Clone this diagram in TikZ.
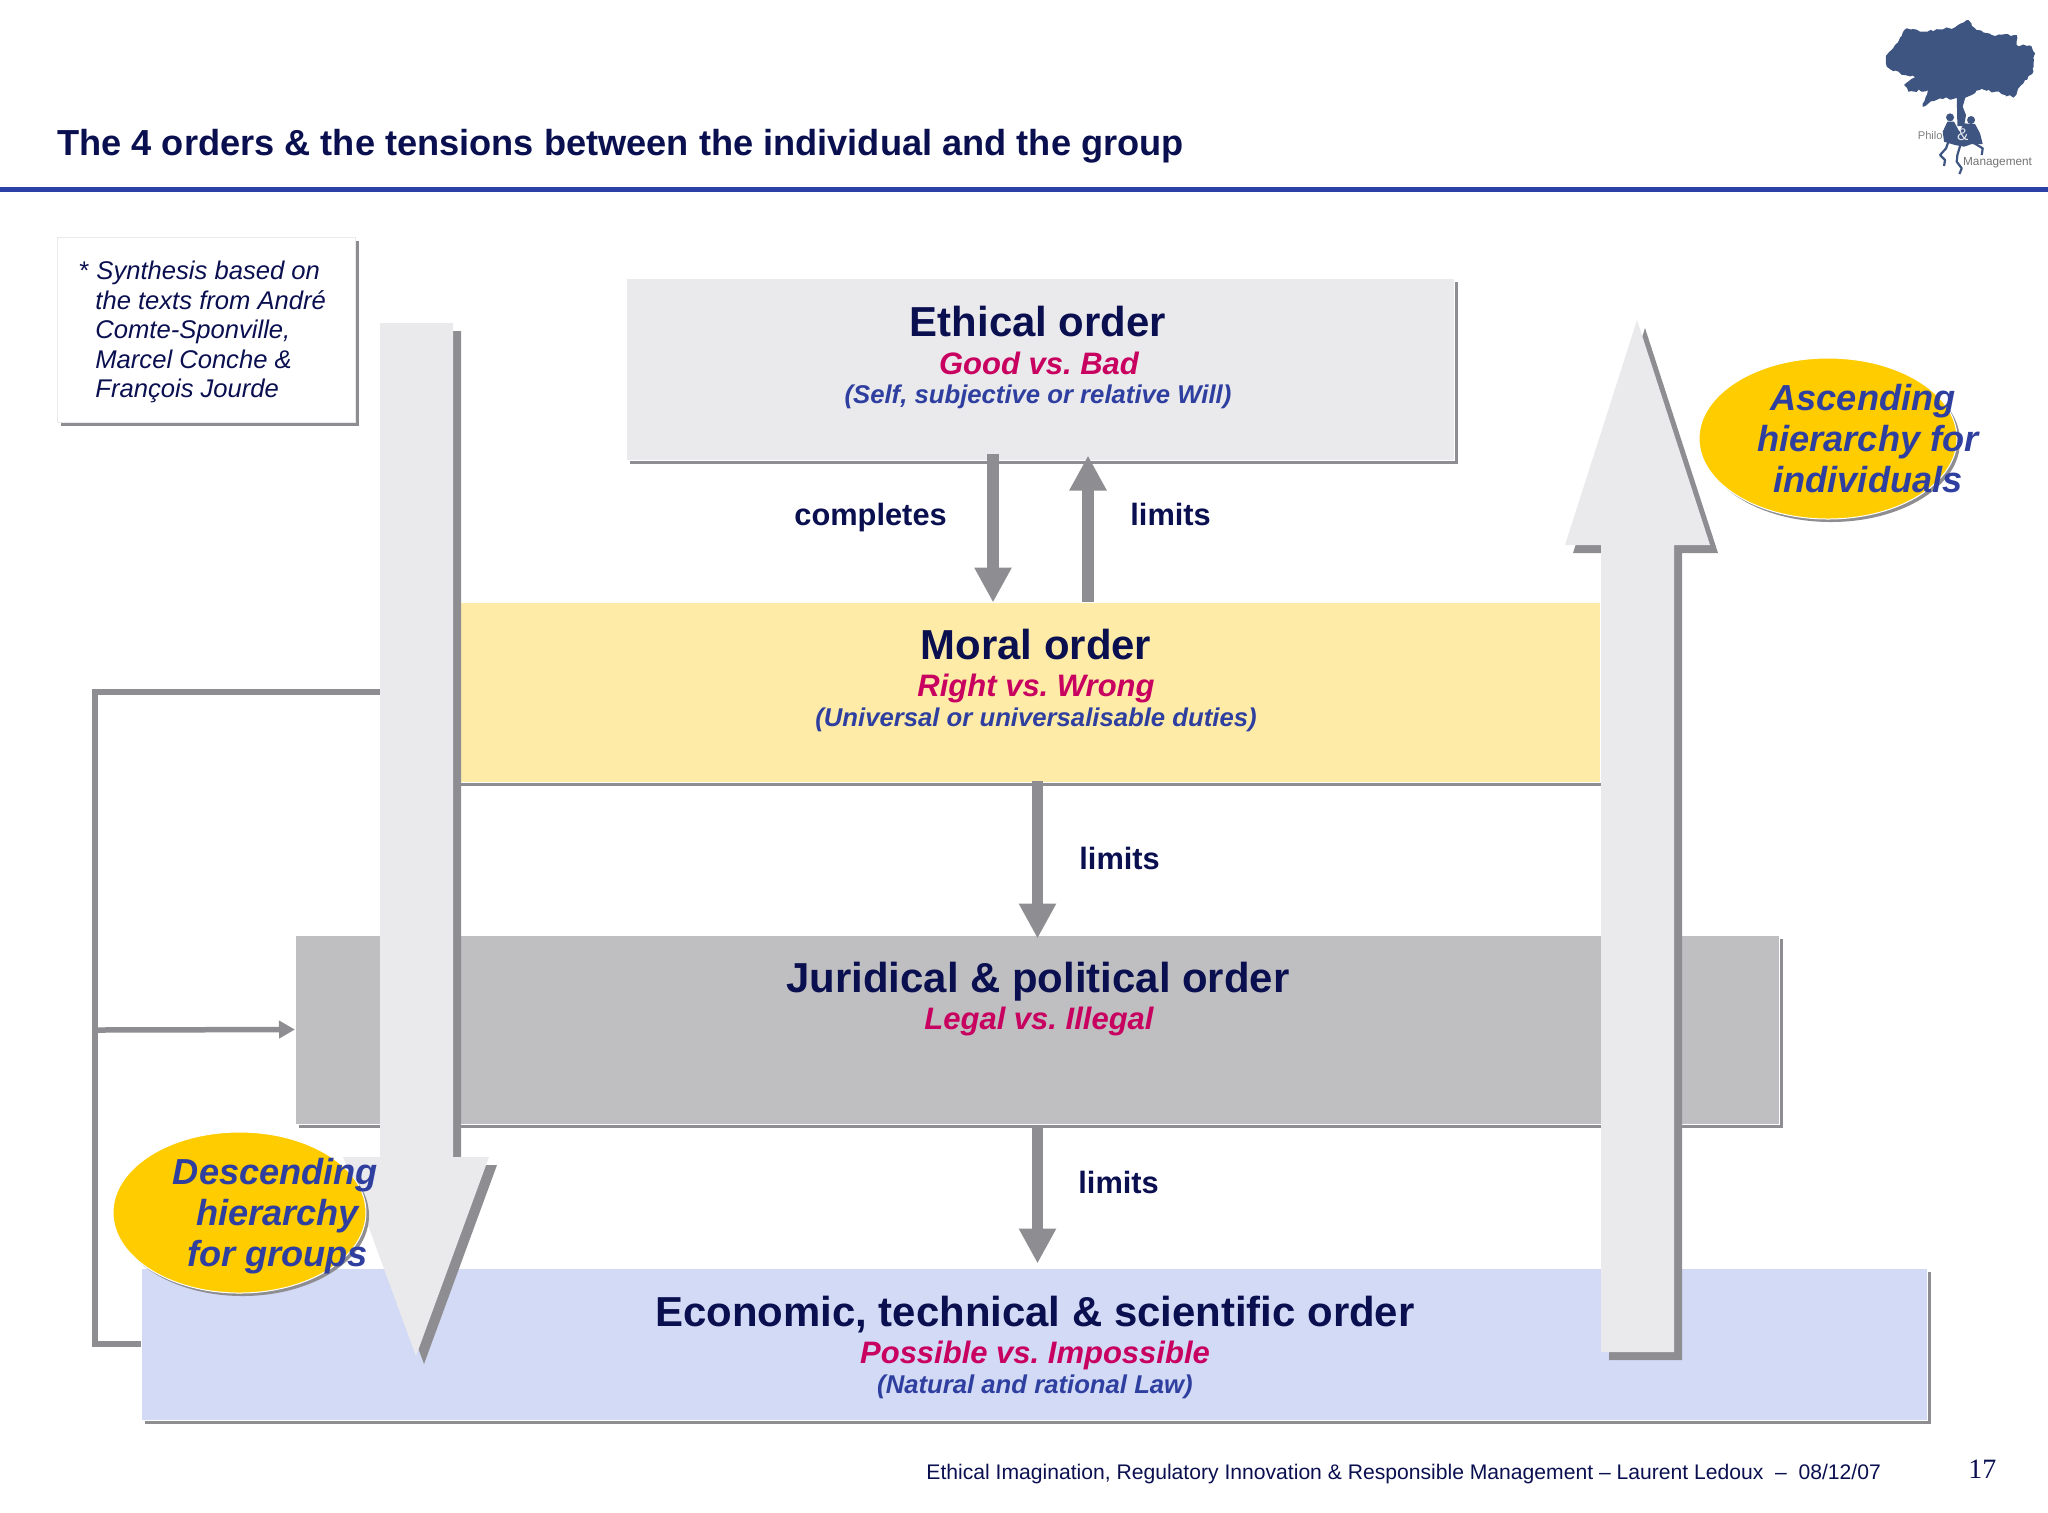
\documentclass[tikz,border=0pt]{standalone}
\usepackage{fontspec}
\setmainfont{Liberation Sans}
\newfontfamily\numfont{Liberation Serif}
\usetikzlibrary{arrows.meta,shapes.geometric,shadows,decorations.pathmorphing}
\frenchspacing
\definecolor{navy}{HTML}{0A0F50}
\definecolor{crimson}{HTML}{C8005F}
\definecolor{royal}{HTML}{2E3FA0}
\definecolor{rulecol}{HTML}{2B41A7}
\definecolor{ethicalcol}{HTML}{EAE9EC}
\definecolor{moralcol}{HTML}{FEEBA8}
\definecolor{juridcol}{HTML}{BFBEC1}
\definecolor{ecocol}{HTML}{D3DAF5}
\definecolor{flowgray}{HTML}{8E8D91}
\definecolor{bubblecol}{HTML}{FFCC00}
\definecolor{treecol}{HTML}{3D5580}
\tikzset{
  orderbox/.style={rectangle,draw=white,line width=0.5pt,inner sep=0pt,
    drop shadow={shadow xshift=1.75pt,shadow yshift=-1.75pt,fill=flowgray,opacity=1}},
  bubble/.style={ellipse,fill=bubblecol,draw=white,line width=0.5pt,inner sep=0pt,
    drop shadow={shadow xshift=1.5pt,shadow yshift=-1.5pt,fill=flowgray,opacity=1}},
  bigarrow/.style={fill=ethicalcol,
    drop shadow={shadow xshift=4pt,shadow yshift=-4pt,fill=flowgray,opacity=1}},
  flow/.style={draw=flowgray,line width=5.75pt,-{Triangle[length=17.5pt,width=17.5pt]}},
  loopline/.style={draw=flowgray,line width=3pt},
  looparrow/.style={draw=flowgray,line width=2.75pt,-{Triangle[length=8pt,width=8.5pt]}},
  ordername/.style={anchor=base,text=navy,font=\fontsize{20.95}{25}\selectfont\bfseries},
  orderrule/.style={anchor=base,text=crimson,font=\fontsize{15.5}{18}\selectfont\bfseries\itshape},
  ordernote/.style={anchor=base,text=royal,font=\fontsize{12.85}{15}\selectfont\bfseries\itshape},
  flowlabel/.style={anchor=base west,text=navy,font=\fontsize{15.4}{18}\selectfont\bfseries},
  bubbletext/.style={align=center,text=royal,inner sep=0pt,font=\fontsize{18.1}{20.5}\selectfont\bfseries\itshape},
  rootline/.style={draw=treecol,line width=1.1pt,line join=round},
}
\begin{document}
\begin{tikzpicture}[x=0.5pt,y=-0.5pt]
\useasboundingbox (0,0) rectangle (2048,1512);

\node[anchor=base west,inner sep=0pt,text=navy,font=\fontsize{18.1}{22}\selectfont\bfseries] (title) at (57,155)
  {The 4 orders \& the tensions between the individual and the group};
\draw[rulecol,line width=2.5pt] (0,189.5) -- (2048,189.5);

\begin{scope}[shift={(1840,0)},x=0.1667pt,y=-0.1667pt]
\pgfmathsetseed{11}
\fill[treecol,decorate,decoration={random steps,segment length=1.6pt,amplitude=0.7pt}]
  (140,165) -- (165,135) -- (185,108) -- (200,85) -- (240,95) -- (295,88) -- (345,82) -- (385,60)
  -- (410,90) -- (455,105) -- (530,105) -- (530,135) -- (575,140) -- (585,160) -- (580,215) -- (550,250)
  -- (520,293) -- (465,275) -- (420,270) -- (378,292) -- (345,295) -- (300,295) -- (248,320) -- (265,270)
  -- (205,275) -- (192,255) -- (225,232) -- (195,225) -- (140,200) -- cycle;
\fill[treecol] (350,285) -- (378,285) -- (368,320) -- (378,345) -- (372,378) -- (352,378) -- cycle;
\fill[treecol] (330,352) circle (12);
\fill[treecol] (393,360) circle (12);
\fill[treecol] (322,365) -- (342,365) -- (358,395) -- (372,370) -- (405,372) -- (420,400) -- (428,432)
  -- (395,432) -- (372,440) -- (345,435) -- (312,425) -- (308,395) -- cycle;
\draw[rootline] (325,425) -- (318,445) -- (300,465) -- (315,480) -- (312,498);
\draw[rootline] (360,438) -- (352,465) -- (350,485) -- (365,505) -- (358,522);
\draw[rootline] (395,425) -- (428,445) -- (425,465);
\node[anchor=base west,inner sep=0pt,text=black!50,font=\fontsize{5.6}{7}\selectfont] (philo) at (232,418) {Philo};
\node[anchor=base west,inner sep=0pt,text=white!85!treecol,font=\fontsize{8.5}{9}\selectfont] (amp) at (350,422) {\&};
\node[anchor=base west,inner sep=0pt,text=black!55,font=\fontsize{5.9}{7}\selectfont] (mgmt) at (368,495) {Management};
\end{scope}

\node[orderbox,draw=ethicalcol,fill=white,minimum width=149pt,minimum height=92.5pt] (note) at (206,329.5) {};
\node[anchor=north west,align=left,inner sep=0pt,text=navy,font=\fontsize{12.8}{14.75}\selectfont\itshape] (notetext) at (79,261)
  {{\upshape *} Synthesis based on\\\hspace*{8pt}the texts from André\\\hspace*{8pt}Comte-Sponville,\\\hspace*{8pt}Marcel Conche \&\\\hspace*{8pt}François Jourde};

\node[orderbox,fill=ethicalcol,minimum width=414pt,minimum height=91pt] (ethical) at (1040,369) {};
\node[orderbox,fill=moralcol,minimum width=590pt,minimum height=90pt] (moral) at (1010,692) {};
\node[orderbox,fill=juridcol,minimum width=742pt,minimum height=94.5pt] (juridical) at (1037.5,1029.5) {};
\node[orderbox,fill=ecocol,minimum width=893pt,minimum height=76pt] (economic) at (1034,1344) {};

\coordinate (loopcorner) at (95,1030);
\draw[loopline] (moral.west) -| (loopcorner) |- (economic.west);
\draw[looparrow] (loopcorner) -- (juridical.west);

\coordinate (completesx) at (993,0);
\coordinate (limitsx) at (1088,0);
\draw[flow,shorten <=-3.5pt,shorten >=-0.5pt] (completesx |- ethical.south) -- (completesx |- moral.north);
\draw[flow,shorten >=-2.5pt] (limitsx |- moral.north) -- (limitsx |- ethical.south);
\draw[flow,shorten <=-1pt,shorten >=-2pt] (moral.south -| juridical.north) -- (juridical.north);
\draw[flow,shorten >=2pt] (juridical.south) -- (juridical.south |- economic.north);

\node[flowlabel,inner sep=0pt] (completes) at (794,525) {completes};
\node[flowlabel,inner sep=0pt] (limitsa) at (1130,525) {limits};
\node[flowlabel,inner sep=0pt] (limitsb) at (1079,869) {limits};
\node[flowlabel,inner sep=0pt] (limitsc) at (1078,1193) {limits};

\node[ordername,inner sep=0pt] (ethicalname) at (1038,336) {Ethical order};
\node[orderrule,inner sep=0pt] (ethicalrule) at (1039,374) {Good vs. Bad};
\node[ordernote,inner sep=0pt] (ethicalnote) at (1038,403) {(Self, subjective or relative Will)};
\node[ordername,inner sep=0pt] (moralname) at (1036,659) {Moral order};
\node[orderrule,inner sep=0pt] (moralrule) at (1036,696) {Right vs. Wrong};
\node[ordernote,inner sep=0pt] (moralnote) at (1036,726) {(Universal or universalisable duties)};
\node[ordername,inner sep=0pt] (juridname) at (1038,992) {Juridical \& political order};
\node[orderrule,inner sep=0pt] (juridrule) at (1039,1029) {Legal vs. Illegal};
\node[ordername,inner sep=0pt] (econame) at (1035,1326) {Economic, technical \& scientific order};
\node[orderrule,inner sep=0pt] (ecorule) at (1035,1363) {Possible vs. Impossible};
\node[ordernote,inner sep=0pt] (econote) at (1035,1393) {(Natural and rational Law)};

\fill[bigarrow] (380,323) -- (453,323) -- (453,1157) -- (489,1157) -- (416,1356) -- (343,1157) -- (380,1157) -- cycle;
\fill[bigarrow] (1601,1352) -- (1674,1352) -- (1674,545) -- (1710,545) -- (1637,320) -- (1565,545) -- (1601,545) -- cycle;

\node[bubble,minimum width=126.5pt,minimum height=80.5pt] (descending) at (239.5,1212.5) {};
\node[bubbletext] (descendingtext) at (277.5,1216.5) {Descending\hspace*{2pt}\\hierarchy\\for groups};
\node[bubble,minimum width=129pt,minimum height=80.5pt] (ascending) at (1828,438.5) {};
\node[bubbletext] (ascendingtext) at (1868,438.5) {Ascending\hspace*{5pt}\\hierarchy for\\individuals};

\node[anchor=base west,inner sep=0pt,text=navy,font=\fontsize{10.56}{12}\selectfont] (footer) at (926,1479)
  {Ethical Imagination, Regulatory Innovation \& Responsible Management – Laurent Ledoux~~–~~08/12/07};
\node[anchor=base west,inner sep=0pt,text=navy,font=\numfont\fontsize{14}{16}\selectfont] (pagenum) at (1968,1478) {17};
\end{tikzpicture}
\end{document}
